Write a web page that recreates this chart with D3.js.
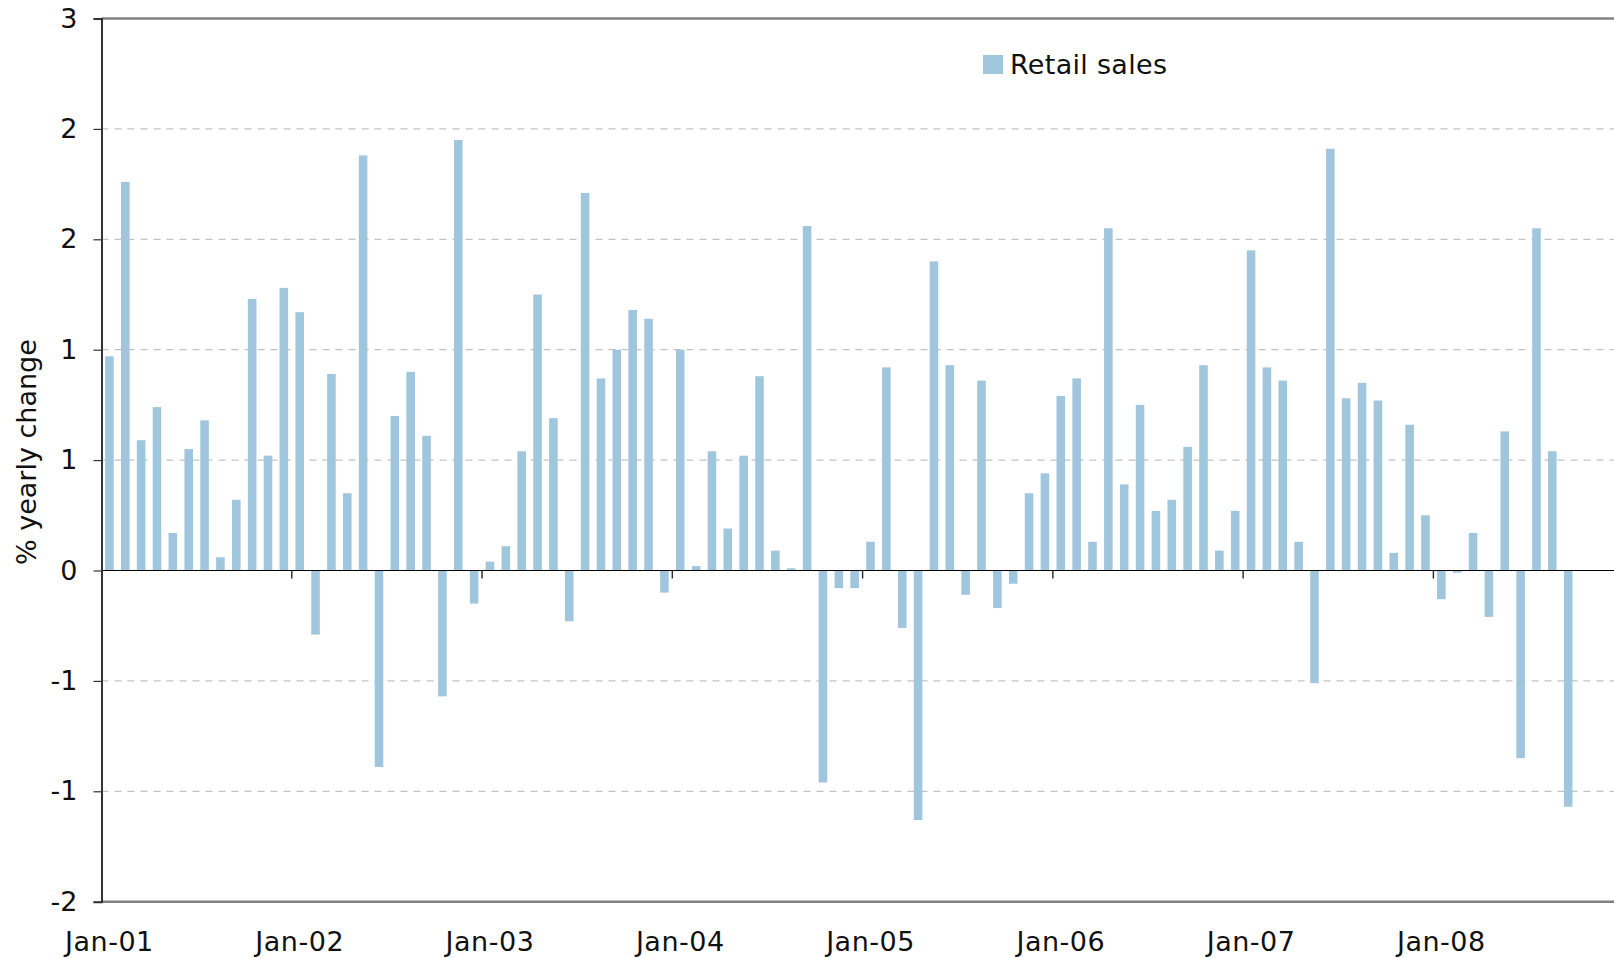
<!DOCTYPE html>
<html>
<head>
<meta charset="utf-8">
<script src="https://cdn.jsdelivr.net/npm/d3@7"></script>
<style>
    body { margin: 0; background: #fff; }
    #chart { width: 1614px; height: 958px; overflow: hidden; }
    text { font-family: "DejaVu Sans", Verdana, sans-serif; fill: #111; }
</style>
</head>
<body>
<div id="chart"></div>
<script>
// Retail sales, % yearly change, monthly values read per year
const years = ["01", "02", "03", "04", "05", "06", "07", "08"];
const monthNames = ["Jan", "Feb", "Mar", "Apr", "May", "Jun", "Jul", "Aug", "Sep", "Oct", "Nov", "Dec"];
const sales2001 = [0.97, 1.76, 0.59, 0.74, 0.17, 0.55, 0.68, 0.06, 0.32, 1.23, 0.52, 1.28];
const sales2002 = [1.17, -0.29, 0.89, 0.35, 1.88, -0.89, 0.70, 0.90, 0.61, -0.57, 1.95, -0.15];
const sales2003 = [0.04, 0.11, 0.54, 1.25, 0.69, -0.23, 1.71, 0.87, 1.00, 1.18, 1.14, -0.10];
const sales2004 = [1.00, 0.02, 0.54, 0.19, 0.52, 0.88, 0.09, 0.01, 1.56, -0.96, -0.08, -0.08];
const sales2005 = [0.13, 0.92, -0.26, -1.13, 1.40, 0.93, -0.11, 0.86, -0.17, -0.06, 0.35, 0.44];
const sales2006 = [0.79, 0.87, 0.13, 1.55, 0.39, 0.75, 0.27, 0.32, 0.56, 0.93, 0.09, 0.27];
const sales2007 = [1.45, 0.92, 0.86, 0.13, -0.51, 1.91, 0.78, 0.85, 0.77, 0.08, 0.66, 0.25];
const sales2008 = [-0.13, -0.01, 0.17, -0.21, 0.63, -0.85, 1.55, 0.54, -1.07];

// y ticks sit every 0.5, the labels are shown rounded to whole numbers
const yTicks = [-1.5, -1, -0.5, 0, 0.5, 1, 1.5, 2, 2.5];
const yTickLabels = ["-2", "-1", "-1", "0", "1", "1", "2", "2", "3"];
const seriesName = "Retail sales";
const yTitle = "% yearly change";

// build the monthly categories and join them with the values
const categories = [];
years.forEach(y => monthNames.forEach(m => categories.push(`${m}-${y}`)));
const values = [].concat(sales2001, sales2002, sales2003, sales2004, sales2005, sales2006, sales2007, sales2008);
const data = values.map((v, i) => ({ cat: categories[i], value: v }));

const W = 1614, H = 958;
const margin = { top: 18.5, left: 101.5, bottom: H - 901.7 };
const plotW = 96 * 15.856; // runs past the right edge of the picture, as in the original
const height = H - margin.top - margin.bottom;
const pad = 0.46;

const svg = d3.select("#chart")
    .append("svg")
    .attr("width", W)
    .attr("height", H);

const g = svg.append("g")
    .attr("transform", `translate(${margin.left},${margin.top})`);

// scales
const x = d3.scaleBand().domain(categories).range([0, plotW]).paddingInner(pad).paddingOuter(pad / 2);
const y = d3.scaleLinear().domain([-1.5, 2.5]).range([height, 0]);

// dashed gridlines
g.append("g")
    .selectAll("line")
    .data(yTicks.filter(t => t !== 0 && t !== 2.5 && t !== -1.5))
    .enter().append("line")
    .attr("x1", 0)
    .attr("x2", plotW)
    .attr("y1", d => y(d))
    .attr("y2", d => y(d))
    .attr("stroke", "#b4b4b4")
    .attr("stroke-width", 1)
    .attr("stroke-dasharray", "7,6");

// bars
g.selectAll(".bar")
    .data(data)
    .enter().append("rect")
    .attr("class", "bar")
    .attr("x", d => x(d.cat))
    .attr("width", x.bandwidth())
    .attr("y", d => y(Math.max(0, d.value)))
    .attr("height", d => Math.abs(y(d.value) - y(0)))
    .attr("fill", "#a0c6dd");

// top and bottom frame lines
g.append("line")
    .attr("x1", 0).attr("x2", plotW)
    .attr("y1", 0).attr("y2", 0)
    .attr("stroke", "#808080").attr("stroke-width", 2.5);
g.append("line")
    .attr("x1", 0).attr("x2", plotW)
    .attr("y1", height).attr("y2", height)
    .attr("stroke", "#808080").attr("stroke-width", 2.5);

// zero line
g.append("line")
    .attr("x1", 0).attr("x2", plotW)
    .attr("y1", y(0)).attr("y2", y(0))
    .attr("stroke", "#000").attr("stroke-width", 1.2);

// year ticks hanging under the zero line
const yearStarts = categories.filter((c, i) => i > 0 && i % 12 === 0);
g.append("g")
    .selectAll("line")
    .data(yearStarts)
    .enter().append("line")
    .attr("x1", d => x(d) - x.step() * pad / 2)
    .attr("x2", d => x(d) - x.step() * pad / 2)
    .attr("y1", y(0))
    .attr("y2", y(0) + 8)
    .attr("stroke", "#333")
    .attr("stroke-width", 1.5);

// y axis
const yAxis = g.append("g")
    .call(d3.axisLeft(y)
        .tickValues(yTicks)
        .tickSize(8)
        .tickPadding(16)
        .tickFormat((d, i) => yTickLabels[i]));
yAxis.select(".domain").attr("stroke", "#333").attr("stroke-width", 2);
yAxis.selectAll(".tick line").attr("stroke", "#333").attr("stroke-width", 1.2);
yAxis.selectAll(".tick text")
    .style("font-family", "DejaVu Sans, Verdana, sans-serif")
    .style("font-size", "27px")
    .attr("fill", "#111");

// x axis labels, one per January
const xAxis = g.append("g")
    .attr("transform", `translate(0,${height})`)
    .call(d3.axisBottom(x)
        .tickValues(categories.filter((c, i) => i % 12 === 0))
        .tickSize(0)
        .tickPadding(30));
xAxis.select(".domain").remove();
xAxis.selectAll(".tick text")
    .style("font-family", "DejaVu Sans, Verdana, sans-serif")
    .style("font-size", "27px")
    .style("letter-spacing", "0.5px")
    .attr("fill", "#111");

// y axis title
svg.append("text")
    .attr("transform", `translate(36,${(margin.top + 901.7) / 2 - 8}) rotate(-90)`)
    .attr("text-anchor", "middle")
    .style("font-size", "27px")
    .text(yTitle);

// legend
const legend = svg.append("g").attr("transform", "translate(983,55)");
legend.append("rect")
    .attr("width", 20)
    .attr("height", 19)
    .attr("fill", "#a0c6dd");
legend.append("text")
    .attr("x", 27)
    .attr("y", 19)
    .style("font-size", "27px")
    .style("letter-spacing", "0.3px")
    .text(seriesName);
</script>
</body>
</html>
